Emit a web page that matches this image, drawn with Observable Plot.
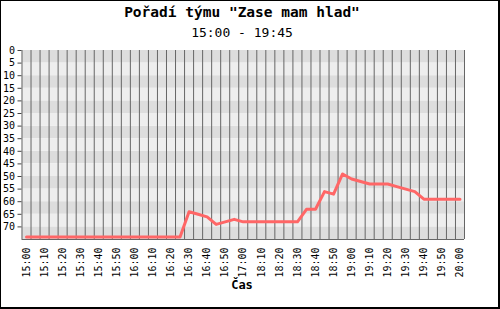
<!DOCTYPE html>
<html>
<head>
<meta charset="utf-8">
<script src="https://cdn.jsdelivr.net/npm/d3@7"></script>
<script src="https://cdn.jsdelivr.net/npm/@observablehq/plot@0.6"></script>
<style>
  html, body { margin: 0; padding: 0; background: #fff; }
  #wrap { position: relative; width: 500px; height: 309px; overflow: hidden; background: #fff; }
  #border { position: absolute; left: 0; top: 0; width: 497px; height: 306px; border-left: 1px solid #000; border-top: 1px solid #000; border-right: 2px solid #000; border-bottom: 2px solid #000; pointer-events: none; }
  .t { position: absolute; left: 0; width: 484px; text-align: center; font-family: "DejaVu Sans Mono", monospace; color: #000; white-space: pre; }
  #title { top: 5px; font-size: 14.5px; line-height: 14.5px; font-weight: bold; }
  #subtitle { top: 26px; font-size: 13px; line-height: 13px; }
  #xlabel { top: 279px; font-size: 12px; line-height: 12px; font-weight: bold; }
  #chart { position: absolute; left: 0; top: 0; }
</style>
</head>
<body>
<div id="wrap">
  <div id="chart"></div>
  <div class="t" id="title"></div>
  <div class="t" id="subtitle"></div>
  <div class="t" id="xlabel"></div>
  <div id="border"></div>
</div>
<script>
const titleText = "Pořadí týmu \"Zase mam hlad\"";
const subtitleText = "15:00 - 19:45";
const xAxisLabel = "Čas";

const timeLabels = [
  "15:00","15:05","15:10","15:15","15:20","15:25","15:30","15:35","15:40","15:45",
  "15:50","15:55","16:00","16:05","16:10","16:15","16:20","16:25","16:30","16:35",
  "16:40","16:45","16:50","16:55","17:00","18:05","18:10","18:15","18:20","18:25",
  "18:30","18:35","18:40","18:45","18:50","18:55","19:00","19:05","19:10","19:15",
  "19:20","19:25","19:30","19:35","19:40","19:45","19:50","19:55","20:00"
];

const rank = [
  74,74,74,74,74,74,74,74,74,74,
  74,74,74,74,74,74,74,74,64,65,
  66,69,68,67,68,68,68,68,68,68,
  68,63,63,56,57,49,51,52,53,53,
  53,54,55,56,59,59,59,59,59
];

const yTicks = [0,5,10,15,20,25,30,35,40,45,50,55,60,65,70];
const yMax = 75;

document.getElementById("title").textContent = titleText;
document.getElementById("subtitle").textContent = subtitleText;
document.getElementById("xlabel").textContent = xAxisLabel;

const idx = timeLabels.map((d, i) => i);
const n = timeLabels.length;
const gridPos = idx.slice(1).map(i => i - 0.5);
const labelIdx = idx.filter(i => i % 2 === 0);

const chart = Plot.plot({
  width: 500,
  height: 309,
  marginLeft: 21.5,
  marginRight: 36,
  marginTop: 50,
  marginBottom: 70,
  x: {domain: [-0.5, n - 0.5]},
  y: {domain: [0, yMax], reverse: true},
  style: {fontFamily: "DejaVu Sans Mono", fontSize: "10px", background: "transparent", color: "#000"},
  marks: [
    Plot.rect(yTicks.filter((d, i) => i % 2 === 0), {x1: -0.5, x2: n - 0.5, y1: d => d, y2: d => d + 5, fill: "#dddddd"}),
    Plot.rect(yTicks.filter((d, i) => i % 2 === 1), {x1: -0.5, x2: n - 0.5, y1: d => d, y2: d => d + 5, fill: "#eeeeee"}),
    Plot.ruleX(gridPos, {stroke: "#666", strokeWidth: 1}),
    Plot.ruleX([-0.5, n - 0.5], {stroke: "#666", strokeWidth: 1}),
    Plot.ruleY([yMax], {stroke: "#666", strokeWidth: 1}),
    Plot.line(idx, {x: i => i, y: i => rank[i], stroke: "#ff6666", strokeWidth: 3}),
    Plot.axisY({ticks: yTicks, tickSize: 4, tickPadding: 3, stroke: "#444", label: null}),
    Plot.axisX({ticks: labelIdx, tickFormat: i => timeLabels[i], tickRotate: -90, tickSize: 0, tickPadding: 8, label: null})
  ]
});
document.getElementById("chart").appendChild(chart);
</script>
</body>
</html>
